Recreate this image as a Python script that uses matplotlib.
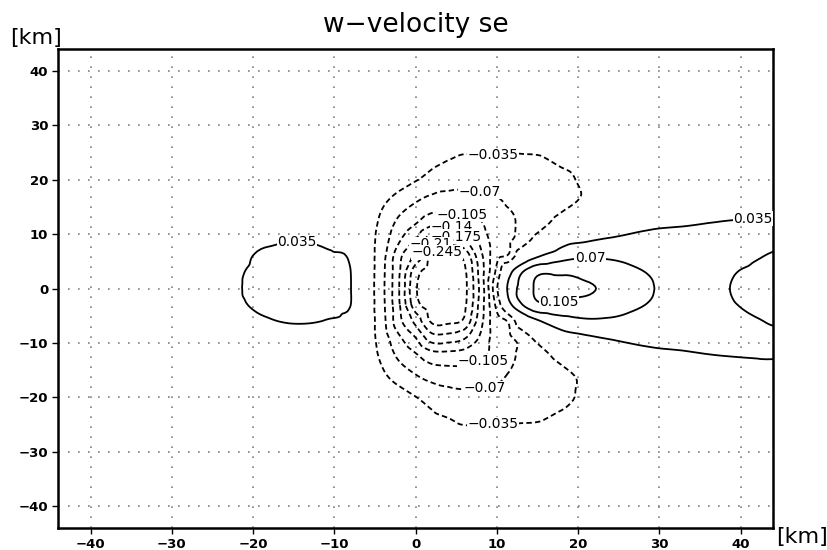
import matplotlib
matplotlib.use("Agg")
import matplotlib.pyplot as plt
import matplotlib.tri as mtri
import numpy as np

# grid nodes (km) and w-velocity values
x_km = [-44, -36, -28, -23, -19, -15, -11, -8, -6, -4, -2, 0, 2, 4, 6, 8,
        10, 11.5, 13, 15, 18, 21, 24, 28, 33, 38, 44]
y_km = [-44, -34, -28, -24, -20, -16, -12, -9, -6, -3, 0, 3, 6, 9, 12, 16,
        20, 24, 28, 34, 44]

w = [
    # y = -44
    [0] * 27,
    # y = -34
    [0, 0, 0, 0, 0, 0, 0, 0, -0.001, -0.002, -0.004, -0.005, -0.007, -0.008, -0.009, -0.009,
     -0.009, -0.009, -0.009, -0.008, -0.007, -0.006, -0.005, -0.004, -0.003, -0.002, -0.002],
    # y = -28
    [0, 0, 0, 0, 0, 0, -0.001, -0.001, -0.003, -0.005, -0.010, -0.013, -0.018, -0.021, -0.023, -0.023,
     -0.023, -0.022, -0.021, -0.019, -0.018, -0.016, -0.013, -0.010, -0.007, -0.006, -0.004],
    # y = -24
    [0, 0, 0, 0, 0, 0, -0.001, -0.002, -0.005, -0.010, -0.017, -0.022, -0.029, -0.034, -0.040, -0.039,
     -0.039, -0.038, -0.038, -0.037, -0.029, -0.024, -0.020, -0.014, -0.010, -0.008, -0.005],
    # y = -20
    [0, 0, 0, 0, 0, 0.001, 0, -0.004, -0.009, -0.018, -0.023, -0.034, -0.046, -0.056, -0.060, -0.060,
     -0.058, -0.053, -0.049, -0.047, -0.043, -0.028, -0.022, -0.014, -0.008, -0.003, 0.0],
    # y = -16
    [0, 0.001, 0.001, 0.001, 0.002, 0.003, 0.001, -0.004, -0.014, -0.030, -0.050, -0.068, -0.083, -0.088, -0.090, -0.086,
     -0.077, -0.068, -0.061, -0.052, -0.042, -0.028, -0.015, -0.005, 0.005, 0.012, 0.014],
    # y = -12
    [0, 0.002, 0.003, 0.004, 0.008, 0.010, 0.007, 0.000, -0.017, -0.045, -0.080, -0.103, -0.130, -0.132, -0.128, -0.118,
     -0.089, -0.078, -0.064, -0.048, -0.022, 0.0, 0.010, 0.026, 0.032, 0.037, 0.040],
    # y = -9
    [0, 0.003, 0.005, 0.008, 0.018, 0.022, 0.019, 0.010, -0.016, -0.054, -0.100, -0.140, -0.195, -0.195, -0.180, -0.135,
     -0.087, -0.075, -0.058, -0.022, 0.018, 0.030, 0.038, 0.043, 0.045, 0.045, 0.040],
    # y = -6
    [0, 0.005, 0.010, 0.016, 0.031, 0.037, 0.034, 0.024, -0.014, -0.060, -0.130, -0.185, -0.250, -0.252, -0.238, -0.152,
     -0.080, -0.065, -0.005, 0.030, 0.055, 0.065, 0.064, 0.055, 0.052, 0.044, 0.033],
    # y = -3
    [0.002, 0.006, 0.015, 0.027, 0.040, 0.045, 0.042, 0.0355, -0.013, -0.063, -0.137, -0.230, -0.262, -0.267, -0.252, -0.160,
     -0.060, 0.022, 0.066, 0.098, 0.100, 0.094, 0.088, 0.071, 0.055, 0.039, 0.026],
    # y = 0
    [0.002, 0.006, 0.016, 0.029, 0.043, 0.049, 0.045, 0.036, -0.013, -0.064, -0.140, -0.240, -0.265, -0.270, -0.255, -0.165,
     -0.040, 0.045, 0.079, 0.110, 0.113, 0.109, 0.098, 0.076, 0.056, 0.037, 0.022],
    # y = 3
    [0.002, 0.006, 0.016, 0.028, 0.042, 0.048, 0.044, 0.0355, -0.013, -0.063, -0.137, -0.230, -0.262, -0.267, -0.252, -0.160,
     -0.060, 0.022, 0.066, 0.098, 0.100, 0.094, 0.088, 0.071, 0.055, 0.039, 0.026],
    # y = 6
    [0, 0.005, 0.012, 0.021, 0.039, 0.043, 0.039, 0.030, -0.014, -0.060, -0.130, -0.185, -0.250, -0.250, -0.235, -0.150,
     -0.080, -0.065, -0.005, 0.030, 0.055, 0.065, 0.064, 0.055, 0.052, 0.044, 0.033],
    # y = 9
    [0, 0.004, 0.008, 0.012, 0.028, 0.033, 0.029, 0.016, -0.016, -0.054, -0.100, -0.140, -0.195, -0.190, -0.175, -0.130,
     -0.085, -0.075, -0.058, -0.022, 0.018, 0.030, 0.038, 0.043, 0.045, 0.045, 0.040],
    # y = 12
    [0, 0.003, 0.005, 0.007, 0.013, 0.018, 0.014, 0.005, -0.017, -0.045, -0.080, -0.103, -0.130, -0.128, -0.120, -0.108,
     -0.084, -0.076, -0.064, -0.048, -0.022, 0.0, 0.010, 0.026, 0.032, 0.037, 0.040],
    # y = 16
    [0, 0.002, 0.002, 0.002, 0.005, 0.007, 0.004, -0.004, -0.014, -0.030, -0.050, -0.068, -0.083, -0.085, -0.085, -0.080,
     -0.074, -0.066, -0.060, -0.052, -0.042, -0.030, -0.015, -0.005, 0.005, 0.012, 0.014],
    # y = 20
    [0, 0, 0, 0, 0.001, 0.002, 0, -0.004, -0.009, -0.018, -0.022, -0.033, -0.045, -0.056, -0.058, -0.058,
     -0.056, -0.052, -0.049, -0.047, -0.041, -0.030, -0.022, -0.014, -0.008, -0.003, 0.0],
    # y = 24
    [0, 0, 0, 0, 0, 0, -0.001, -0.002, -0.005, -0.010, -0.016, -0.020, -0.028, -0.033, -0.038, -0.037,
     -0.037, -0.037, -0.038, -0.037, -0.029, -0.024, -0.020, -0.014, -0.010, -0.008, -0.005],
    # y = 28
    [0, 0, 0, 0, 0, 0, -0.001, -0.001, -0.003, -0.005, -0.010, -0.013, -0.018, -0.020, -0.022, -0.022,
     -0.022, -0.022, -0.021, -0.019, -0.018, -0.016, -0.013, -0.010, -0.007, -0.006, -0.004],
    # y = 34
    [0, 0, 0, 0, 0, 0, 0, 0, -0.001, -0.002, -0.004, -0.005, -0.007, -0.008, -0.009, -0.009,
     -0.009, -0.009, -0.009, -0.008, -0.007, -0.006, -0.005, -0.004, -0.003, -0.002, -0.002],
    # y = 44
    [0] * 27,
]

levels = [-0.245, -0.21, -0.175, -0.14, -0.105, -0.07, -0.035, 0.035, 0.07, 0.105]
ticks = [-40, -30, -20, -10, 0, 10, 20, 30, 40]

# where GrADS put the contour labels
label_spots = [(9.5, 25.6), (8, 18.1), (5.8, 13.9), (4.5, 11.9), (5.0, 9.9),
               (1.9, 8.2), (2.6, 6.9), (-14.6, 8.4), (21.5, 5.6), (17.6, -2.0),
               (41.5, 13.0), (8.8, -14.1), (8.5, -18.1), (9.5, -25.6)]

fig = plt.figure(figsize=(8.27, 5.5), dpi=100)
ax = fig.add_axes([58 / 827, 22 / 550, 715 / 827, 479 / 550])

# smooth contouring of the grid through matplotlib's own tri refiner
gx, gy = np.meshgrid(x_km, y_km)
tri = mtri.Triangulation(gx.ravel(), gy.ravel())
z = np.array(w).ravel()
interp = mtri.CubicTriInterpolator(tri, z, kind="geom")
tri_fine, w_fine = mtri.UniformTriRefiner(tri).refine_field(z, triinterpolator=interp, subdiv=3)

styles = ["solid" if lv > 0 else (0, (3.0, 1.8)) for lv in levels]
cs = ax.tricontour(tri_fine, w_fine, levels=levels, colors="black",
                   linewidths=1.3, linestyles=styles)

fmt = lambda v: ("%g" % v).replace("-", "\u2212")
labels = ax.clabel(cs, fmt=fmt, inline=False, fontsize=10, manual=label_spots)
for t in labels:
    t.set_rotation(0)
    t.set_bbox(dict(facecolor="white", edgecolor="none", pad=0.3))

ax.set_xlim(-44, 44)
ax.set_ylim(-44, 44)
ax.set_xticks(ticks)
ax.set_yticks(ticks)
ax.set_xticklabels([fmt(t) for t in ticks])
ax.set_yticklabels([fmt(t) for t in ticks])
ax.tick_params(direction="out", length=4, width=1, labelsize=9.5, pad=3)
for lab in ax.get_xticklabels() + ax.get_yticklabels():
    lab.set_fontweight("bold")
ax.grid(True, color="0.5", linestyle=(0, (1, 5)), linewidth=1.2)
for sp in ax.spines.values():
    sp.set_linewidth(1.8)

fig.text(0.5025, 0.954, "w\u2212velocity se", ha="center", va="center", fontsize=19)
fig.text(0.012, 0.931, "[km]", ha="left", va="center", fontsize=16)
fig.text(0.939, 0.024, "[km]", ha="left", va="center", fontsize=16)

fig.savefig("out.png", dpi=100)
